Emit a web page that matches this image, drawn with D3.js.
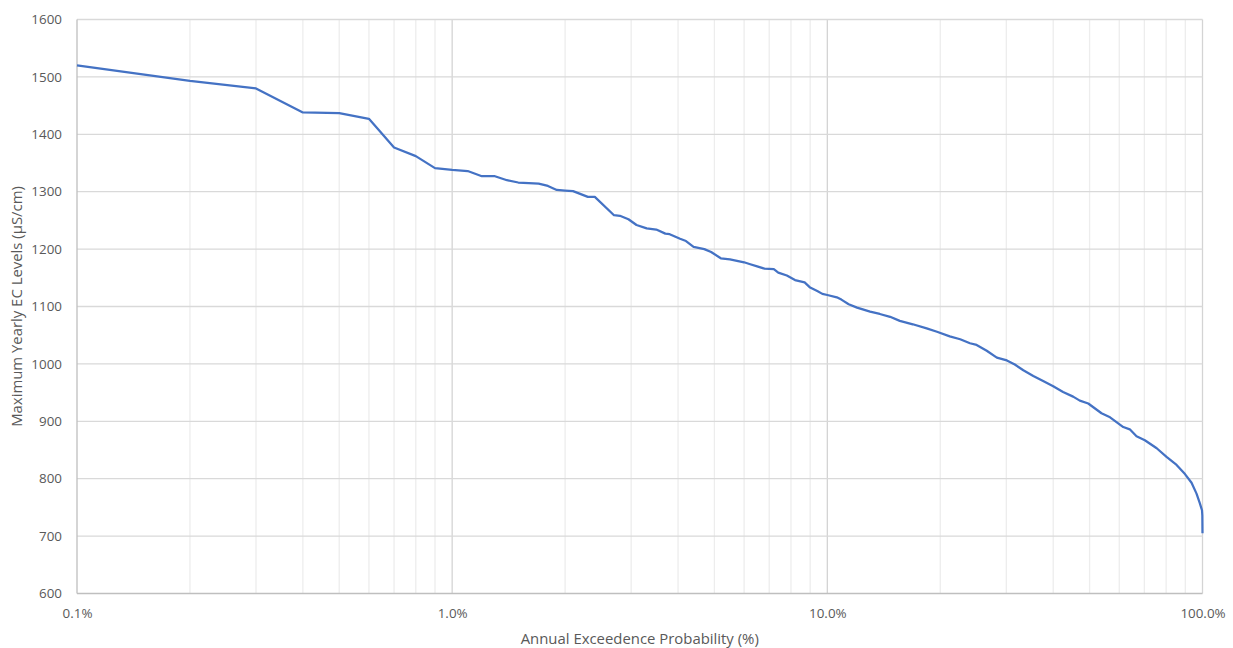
<!DOCTYPE html>
<html>
<head>
<meta charset="utf-8">
<script src="https://cdn.jsdelivr.net/npm/d3@7"></script>
<style>
  html, body { margin: 0; padding: 0; background: #fff; }
  svg { display: block; font-family: "Open Sans", "Noto Sans", sans-serif; }
</style>
</head>
<body>
<svg id="chart" width="1233" height="648"></svg>
<script>
// Annual exceedence probability (%) of each ranked yearly maximum
const aep = [
  0.1, 0.2, 0.3, 0.4, 0.5, 0.6, 0.7, 0.8, 0.9, 1.0,
  1.1, 1.2, 1.3, 1.4, 1.5, 1.6, 1.7, 1.8, 1.9, 2.0,
  2.1, 2.3, 2.4, 2.7, 2.8, 2.95, 3.1, 3.3, 3.5, 3.7,
  3.8, 4.05, 4.2, 4.4, 4.7, 4.9, 5.2, 5.5, 6.0, 6.2,
  6.5, 6.8, 7.2, 7.4, 7.8, 8.2, 8.7, 9.0, 9.4, 9.7,
  10.0, 10.6, 10.9, 11.4, 12.0, 13.0, 13.8, 14.7, 15.6, 16.9,
  18.4, 19.6, 21.2, 22.6, 24.0, 25.0, 26.6, 28.3, 30.1, 31.6,
  33.3, 35.4, 37.6, 40.0, 42.5, 45.2, 47.1, 49.6, 53.8, 56.7,
  61.5, 64.0, 66.7, 70.2, 75.5, 80.2, 85.3, 89.8, 93.5, 96.4,
  98.4, 99.7, 99.9, 100
];

// Maximum yearly EC level (µS/cm) for each probability above
const ecLevel = [
  1520, 1493, 1480, 1438, 1437, 1427, 1377, 1362, 1341, 1338,
  1336, 1327, 1327, 1320, 1316, 1315, 1314, 1310, 1303, 1302,
  1301, 1291, 1291, 1259, 1258, 1252, 1242, 1236, 1234, 1227,
  1226, 1218, 1214, 1204, 1200, 1195, 1184, 1182, 1177, 1174,
  1170, 1166, 1165, 1159, 1154, 1146, 1142, 1133, 1127, 1122,
  1120, 1116, 1112, 1104, 1098, 1091, 1087, 1082, 1075, 1069,
  1062, 1056, 1048, 1043, 1036, 1033, 1023, 1011, 1006, 999,
  989, 979, 970, 961, 951, 943, 936, 931, 914, 907,
  890, 886, 874, 867, 853, 838, 824, 808, 793, 774,
  757, 745, 736, 705
];

const xTickValues = [0.1, 1, 10, 100];
const yTickValues = [600, 700, 800, 900, 1000, 1100, 1200, 1300, 1400, 1500, 1600];

const xTitle = "Annual Exceedence Probability (%)";
const yTitle = "Maximum Yearly EC Levels (µS/cm)";

const svg = d3.select("#chart");
const margin = { left: 77, right: 30.5, top: 19.5, bottom: 54.5 };
const W = +svg.attr("width"), H = +svg.attr("height");
const innerW = W - margin.left - margin.right;
const innerH = H - margin.top - margin.bottom;

const x = d3.scaleLog().domain([0.1, 100]).range([0, innerW]);
const y = d3.scaleLinear().domain([600, 1600]).range([innerH, 0]);

const g = svg.append("g").attr("transform", `translate(${margin.left},${margin.top})`);

// vertical grid: 2..9 of each decade light, decades a little darker
const xGrid = x.ticks();
g.append("g").selectAll("line")
  .data(xGrid.filter(d => Math.abs(Math.log10(d) - Math.round(Math.log10(d))) > 1e-9))
  .join("line")
  .attr("x1", d => x(d)).attr("x2", d => x(d))
  .attr("y1", 0).attr("y2", innerH)
  .attr("stroke", "#ededed").attr("stroke-width", 1.3);

g.append("g").selectAll("line")
  .data(xTickValues.slice(1))
  .join("line")
  .attr("x1", d => x(d)).attr("x2", d => x(d))
  .attr("y1", 0).attr("y2", innerH)
  .attr("stroke", "#d4d4d4").attr("stroke-width", 1.3);

// horizontal grid
g.append("g").selectAll("line")
  .data(yTickValues.slice(1))
  .join("line")
  .attr("x1", 0).attr("x2", innerW)
  .attr("y1", d => y(d)).attr("y2", d => y(d))
  .attr("stroke", "#d9d9d9").attr("stroke-width", 1.3);

// axis lines
g.append("line").attr("x1", 0).attr("x2", 0).attr("y1", 0).attr("y2", innerH)
  .attr("stroke", "#bfbfbf").attr("stroke-width", 1.3);
g.append("line").attr("x1", 0).attr("x2", innerW).attr("y1", innerH).attr("y2", innerH)
  .attr("stroke", "#bfbfbf").attr("stroke-width", 1.3);

// axes (labels only)
const fmtPct = d => d3.format(".1f")(d) + "%";
const xAxis = g.append("g")
  .attr("transform", `translate(0,${innerH})`)
  .call(d3.axisBottom(x).tickValues(xTickValues).tickFormat(fmtPct).tickSize(0).tickPadding(15));
const yAxis = g.append("g")
  .call(d3.axisLeft(y).tickValues(yTickValues).tickFormat(d3.format("d")).tickSize(0).tickPadding(15));

[xAxis, yAxis].forEach(a => {
  a.select(".domain").remove();
  a.selectAll("text")
    .attr("fill", "#595959")
    .style("font-size", "13.4px")
    .style("font-family", "'Open Sans', 'Noto Sans', sans-serif");
});

// series
const pts = aep.map((p, i) => [p, ecLevel[i]]);
g.append("path")
  .datum(pts)
  .attr("fill", "none")
  .attr("stroke", "#4472c4")
  .attr("stroke-width", 2.25)
  .attr("stroke-linejoin", "round")
  .attr("d", d3.line().x(d => x(d[0])).y(d => y(d[1])));

// titles
svg.append("text")
  .attr("x", margin.left + innerW / 2)
  .attr("y", 644)
  .attr("text-anchor", "middle")
  .attr("fill", "#595959")
  .style("font-size", "14.9px")
  .text(xTitle);

svg.append("text")
  .attr("transform", `translate(22,${margin.top + innerH / 2}) rotate(-90)`)
  .attr("text-anchor", "middle")
  .attr("fill", "#595959")
  .style("font-size", "14.9px")
  .text(yTitle);
</script>
</body>
</html>
